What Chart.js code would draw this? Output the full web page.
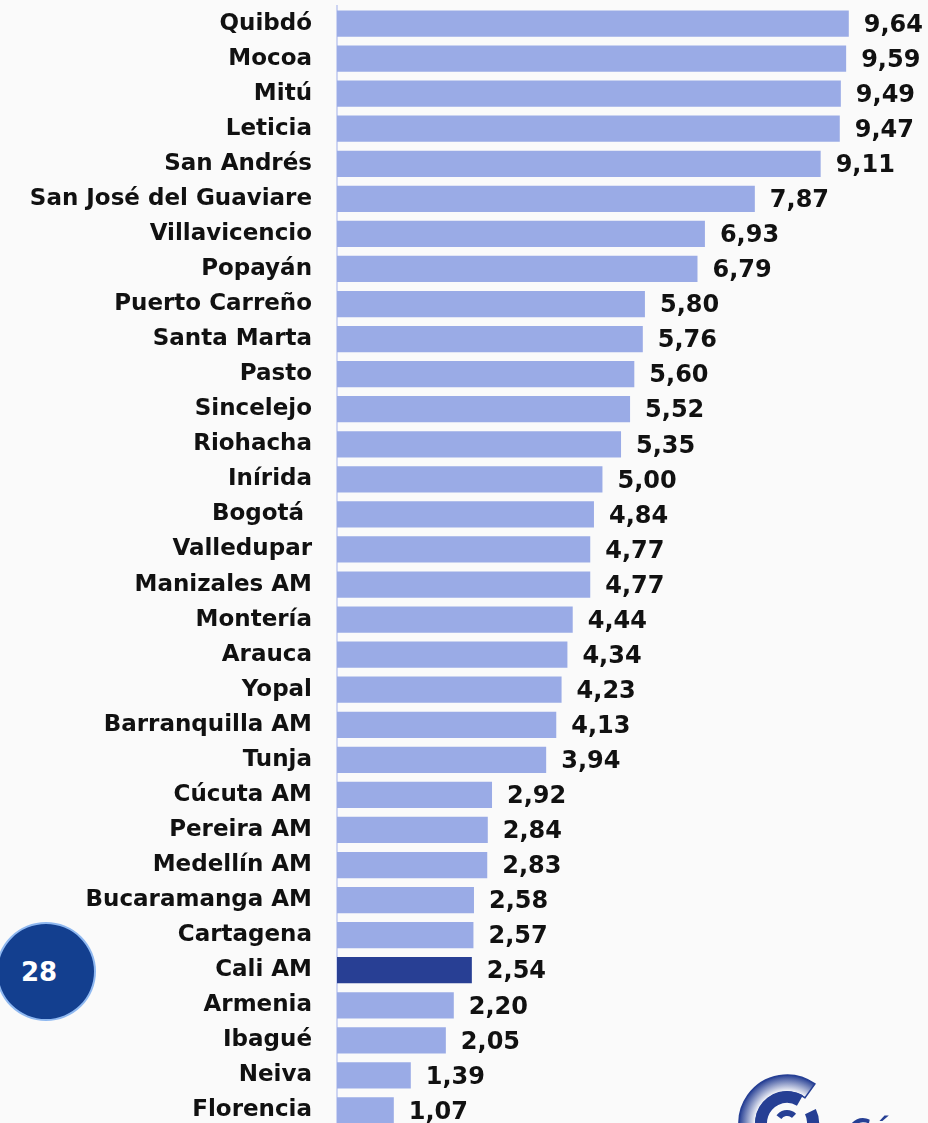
<!DOCTYPE html>
<html>
<head>
<meta charset="utf-8">
<script src="https://cdn.jsdelivr.net/npm/chart.js@4"></script>
<style>
  html, body { margin: 0; padding: 0; background: #fafafa; overflow: hidden; }
  #wrap { position: relative; width: 928px; height: 1128px; }
  #circ {
    position: absolute; left: -4px; top: 922px; width: 100px; height: 99px;
    border-radius: 50%; background: #133f8f; border: 2px solid #8fb8f0;
    color: #fff; font: bold 26px "DejaVu Sans", sans-serif;
    display: flex; align-items: center; justify-content: center; box-sizing: border-box;
    padding-right: 14px;
  }
</style>
</head>
<body>
<div id="wrap">
  <canvas id="grafica" width="928" height="1128"></canvas>
  <div id="circ">28</div>
</div>
<script>
const ciudades = ['Quibdó','Mocoa','Mitú','Leticia','San Andrés','San José del Guaviare','Villavicencio','Popayán',
  'Puerto Carreño','Santa Marta','Pasto','Sincelejo','Riohacha','Inírida','Bogotá ','Valledupar','Manizales AM',
  'Montería','Arauca','Yopal','Barranquilla AM','Tunja','Cúcuta AM','Pereira AM','Medellín AM','Bucaramanga AM',
  'Cartagena','Cali AM','Armenia','Ibagué','Neiva','Florencia'];
const valores = [9.64,9.59,9.49,9.47,9.11,7.87,6.93,6.79,5.80,5.76,5.60,5.52,5.35,5.00,4.84,4.77,4.77,
  4.44,4.34,4.23,4.13,3.94,2.92,2.84,2.83,2.58,2.57,2.54,2.20,2.05,1.39,1.07];
const destacada = 'Cali AM';

const colores = ciudades.map(c => c === destacada ? '#283f94' : '#9aabe6');
const fuente = '"DejaVu Sans", sans-serif';

const etiquetas = {
  id: 'etiquetas',
  afterDatasetsDraw(chart) {
    const ctx = chart.ctx;
    const meta = chart.getDatasetMeta(0);
    ctx.save();
    ctx.fillStyle = '#111';
    ctx.font = 'bold 24px ' + fuente;
    ctx.textAlign = 'left';
    ctx.textBaseline = 'middle';
    meta.data.forEach((bar, i) => {
      ctx.fillText(valores[i].toFixed(2).replace('.', ','), bar.x + 15, bar.y + 2);
    });
    ctx.restore();
  }
};

// logo parcial abajo a la derecha
const logo = {
  id: 'logo',
  afterDraw(chart) {
    const ctx = chart.ctx;
    const cx = 787, cy = 1123;
    ctx.save();
    const g = ctx.createRadialGradient(cx, cy, 31, cx, cy, 48);
    g.addColorStop(0, '#ffffff');
    g.addColorStop(1, '#263f94');
    ctx.fillStyle = g;
    ctx.beginPath();
    ctx.arc(cx, cy, 48, -0.95, Math.PI * 0.6, true);
    ctx.arc(cx, cy, 31, Math.PI * 0.6, -0.95, false);
    ctx.closePath();
    ctx.fill();
    ctx.strokeStyle = '#263f94';
    ctx.lineWidth = 1.5;
    ctx.stroke();
    ctx.fillStyle = '#263f94';
    ctx.beginPath();
    ctx.arc(cx, cy, 32, -1.05, -0.45 + Math.PI * 2, true);
    ctx.arc(cx, cy, 20, -0.45 + Math.PI * 2, -1.05, false);
    ctx.closePath();
    ctx.fill();
    ctx.beginPath();
    ctx.arc(cx, cy, 13, -0.8, Math.PI * 1.2, true);
    ctx.arc(cx, cy, 7, Math.PI * 1.2, -0.8, false);
    ctx.closePath();
    ctx.fill();
    ctx.font = 'italic bold 30px ' + fuente;
    ctx.fillText('Cámara', 848, 1140);
    ctx.restore();
  }
};

new Chart(document.getElementById('grafica').getContext('2d'), {
  type: 'bar',
  data: {
    labels: ciudades,
    datasets: [{
      data: valores,
      backgroundColor: colores,
      barPercentage: 0.75,
      categoryPercentage: 1
    }]
  },
  options: {
    indexAxis: 'y',
    responsive: false,
    animation: false,
    layout: { padding: { top: 6, right: 7, bottom: 0, left: 0 } },
    plugins: { legend: { display: false }, tooltip: { enabled: false } },
    scales: {
      x: { display: false, min: 0, max: 11 },
      y: {
        afterFit(scale) {
          scale.width = 337;
          scale.paddingTop = 0;
          scale.paddingBottom = 0;
        },
        grid: { display: false, drawTicks: false },
        border: { display: true, color: '#cdd4f2', width: 2 },
        ticks: {
          padding: 25,
          color: '#111',
          font: { family: fuente, weight: 'bold', size: 23 }
        }
      }
    }
  },
  plugins: [etiquetas, logo]
});
</script>
</body>
</html>
